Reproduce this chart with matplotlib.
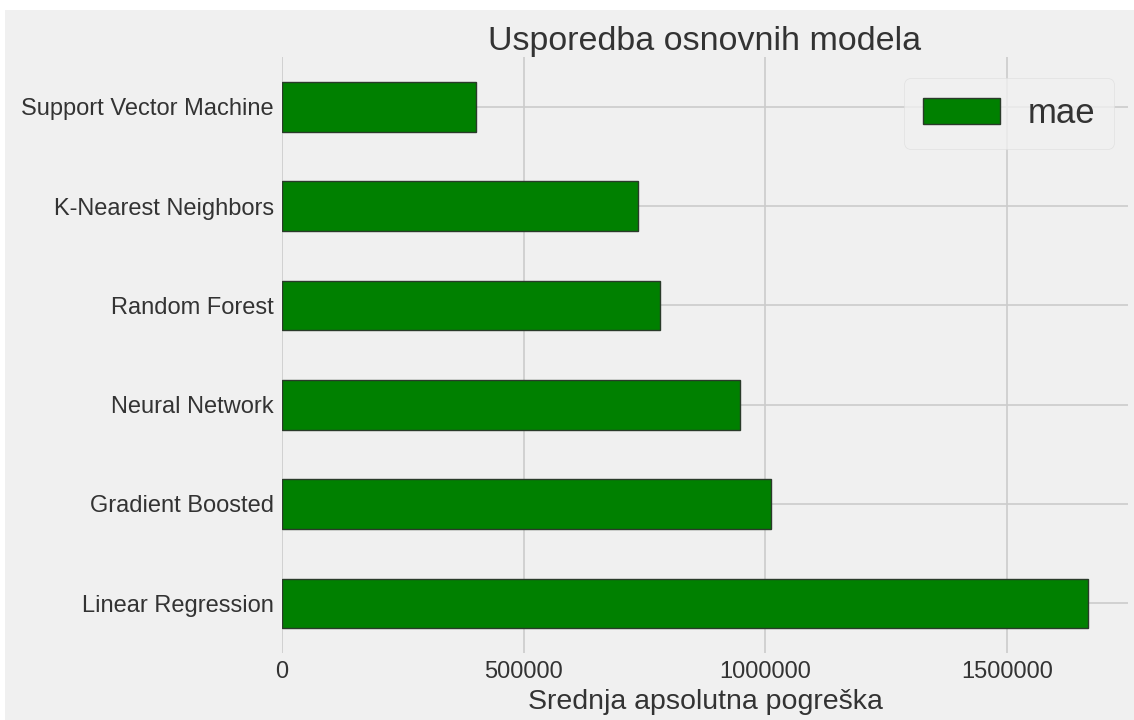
import matplotlib
matplotlib.use('Agg')
import matplotlib.pyplot as plt
from matplotlib.patches import Rectangle
import pandas as pd

models = ['Linear Regression', 'Gradient Boosted', 'Neural Network',
          'Random Forest', 'K-Nearest Neighbors', 'Support Vector Machine']
mae = [1666700, 1012300, 946500, 781900, 736600, 401000]

plt.style.use('fivethirtyeight')
plt.rcParams['font.family'] = ['Liberation Sans', 'DejaVu Sans']

df = pd.DataFrame({'model': models, 'mae': mae})

fig = plt.figure(figsize=(11.34, 7.2), dpi=100)
fig.patch.set_facecolor('white')
# grey panel (screenshot leaves a thin white strip on the top and left)
fig.patches.append(Rectangle((5 / 1134, 0), 1, 1 - 10 / 720, transform=fig.transFigure,
                             facecolor='#f0f0f0', edgecolor='none', zorder=-10))

ax = fig.add_axes([282 / 1134, 1 - 653 / 720, (1128 - 282) / 1134, (653 - 57) / 720])
ax.set_facecolor('#f0f0f0')
df.plot(x='model', y='mae', kind='barh', color='green', edgecolor='#2a3a2a',
        linewidth=1, ax=ax)

ax.set_xlim(0, 1750000)
ax.set_ylim(-0.5, 5.5)
ax.set_ylabel('')
ax.set_xlabel('Srednja apsolutna pogreška', fontsize=20.5, color='#333333', labelpad=4)
ax.set_title('Usporedba osnovnih modela', fontsize=24.5, color='#333333', pad=5)
ax.set_xticks([0, 500000, 1000000, 1500000])
ax.set_xticklabels(['0', '500000', '1000000', '1500000'])
ax.tick_params(axis='both', labelsize=17, colors='#333333', length=0)
ax.tick_params(axis='y', pad=6)
ax.tick_params(axis='x', pad=6)
ax.grid(True, color='#cbcbcb', linewidth=1.2)
ax.set_axisbelow(True)
for s in ax.spines.values():
    s.set_visible(False)

leg = ax.legend(loc='upper right', bbox_to_anchor=(1 - 14 / 846, 1 - 21 / 596),
                borderaxespad=0, fontsize=25, frameon=True, fancybox=True,
                borderpad=0.55, handlelength=2.2, handleheight=0.75,
                handletextpad=0.8)
leg.get_frame().set_facecolor('#f0f0f0')
leg.get_frame().set_edgecolor('#dddddd')
for t in leg.get_texts():
    t.set_color('#333333')

fig.savefig('out.png', dpi=100, facecolor=fig.get_facecolor())
